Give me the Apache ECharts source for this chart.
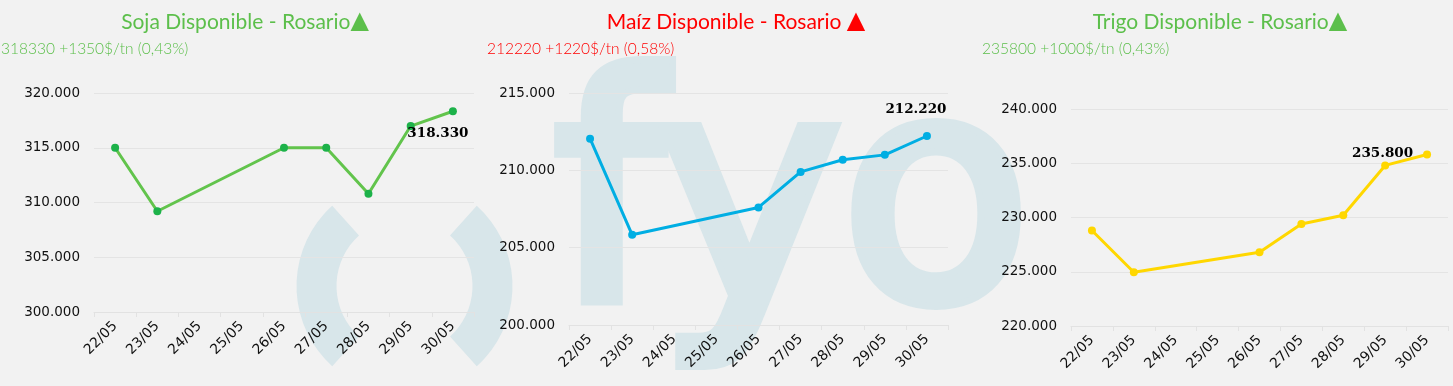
<!DOCTYPE html>
<html>
<head>
<meta charset="utf-8">
<script src="https://cdn.jsdelivr.net/npm/echarts@6/dist/echarts.min.js"></script>
<style>
html,body{margin:0;padding:0;background:#f2f2f2;}
#c{width:1453px;height:386px;}
</style>
</head>
<body>
<div id="c"></div>
<script>
const categories = ['22/05','23/05','24/05','25/05','26/05','27/05','28/05','29/05','30/05'];
const sojaValues  = [315000, 309200, null, null, 315000, 315000, 310800, 316980, 318330];
const maizValues  = [212050, 205830, null, null, 207600, 209900, 210680, 211000, 212220];
const trigoValues = [228800, 224950, null, null, 226800, 229400, 230200, 234800, 235800];

const titles = ['Soja Disponible - Rosario', 'Maíz Disponible - Rosario ', 'Trigo Disponible - Rosario'];
const subtitles = ['318330 +1350$/tn (0,43%)', '212220 +1220$/tn (0,58%)', '235800 +1000$/tn (0,43%)'];
const yMins = [300000, 200000, 220000];
const yMaxs = [320000, 215000, 240000];

const chart = echarts.init(document.getElementById('c'), null, {renderer:'canvas'});
const fmt = v => String(v).replace(/\B(?=(\d{3})+(?!\d))/g, '.');

const titleColors = ['#5cbf4b', '#ff0000', '#5cbf4b'];
const titleCenters = [240, 731, 1215];
const subLefts = [-4, 482, 977];
const grids = [
  {left: 94, top: 93, width: 380, height: 219},
  {left: 569, top: 93, width: 379, height: 232},
  {left: 1071, top: 109, width: 377, height: 217}
];
const lineColors = ['#62c44c', '#00aee3', '#ffd700'];
const symColors = ['#1db24a', '#00aee3', '#ffd700'];
const seriesData = [sojaValues, maizValues, trigoValues];
const lastLabel = [
  {position: 'bottom', offset: [-15, 6]},
  {position: 'top', offset: [-11, -10]},
  {position: 'left', offset: [-5, -1]}
];

const wm = '#d8e6ea';

const option = {
  backgroundColor: '#f2f2f2',
  animation: false,
  graphic: [
    {type: 'text', z: -10, x: 554, y: 63, scaleX: 1.0, style: {text: 'fyo', x: 0, y: 0, textBaseline: 'alphabetic', font: '310px "DejaVu Sans"', fill: wm, stroke: wm, lineWidth: 14}},
    {type: 'sector', z: -10, shape: {cx: 404.5, cy: 286, r: 108, r0: 68, startAngle: 132 * Math.PI / 180, endAngle: 228 * Math.PI / 180}, style: {fill: wm}},
    {type: 'sector', z: -10, shape: {cx: 404.5, cy: 286, r: 108, r0: 68, startAngle: -48 * Math.PI / 180, endAngle: 48 * Math.PI / 180}, style: {fill: wm}}
  ],
  title: [],
  grid: grids,
  xAxis: [],
  yAxis: [],
  series: []
};

for (let i = 0; i < 3; i++) {
  option.title.push({
    text: '{t|' + titles[i] + '}{a|▲}', left: titleCenters[i], top: 5, textAlign: 'center',
    textStyle: {
      color: titleColors[i], fontFamily: 'Lato', fontWeight: 'normal', fontSize: 21,
      rich: {
        t: {color: titleColors[i], fontFamily: 'Lato', fontSize: 21},
        a: {color: titleColors[i], fontFamily: 'DejaVu Sans', fontSize: 24}
      }
    }
  });
  option.title.push({
    text: subtitles[i], left: subLefts[i], top: 36,
    textStyle: {color: titleColors[i], fontFamily: 'Lato', fontWeight: 300, fontSize: 15.5}
  });
  option.xAxis.push({
    type: 'category', gridIndex: i, data: categories, boundaryGap: true,
    axisLine: {lineStyle: {color: '#e2e2e2'}},
    axisTick: {show: true, length: 5, lineStyle: {color: '#e2e2e2'}},
    axisLabel: {rotate: 45, color: '#111', fontFamily: 'DejaVu Sans', fontSize: 14, margin: 12, interval: 0}
  });
  option.yAxis.push({
    type: 'value', gridIndex: i, min: yMins[i], max: yMaxs[i], interval: 5000,
    axisLine: {show: false}, axisTick: {show: false},
    splitLine: {lineStyle: {color: '#e4e4e4'}},
    axisLabel: {color: '#111', fontFamily: 'DejaVu Sans', fontSize: 13.5, margin: 14, formatter: fmt}
  });
  const d = seriesData[i].map((v, j) => {
    if (j === seriesData[i].length - 1) {
      return {value: v, label: Object.assign({show: true, formatter: p => fmt(p.value), color: '#000', fontFamily: 'DejaVu Serif', fontWeight: 'bold', fontSize: 13.5}, lastLabel[i])};
    }
    return v;
  });
  option.series.push({
    type: 'line', xAxisIndex: i, yAxisIndex: i, data: d, connectNulls: true,
    symbol: 'circle', symbolSize: 8, showAllSymbol: true,
    lineStyle: {color: lineColors[i], width: 3},
    itemStyle: {color: symColors[i]}
  });
}

chart.setOption(option);
</script>
</body>
</html>
